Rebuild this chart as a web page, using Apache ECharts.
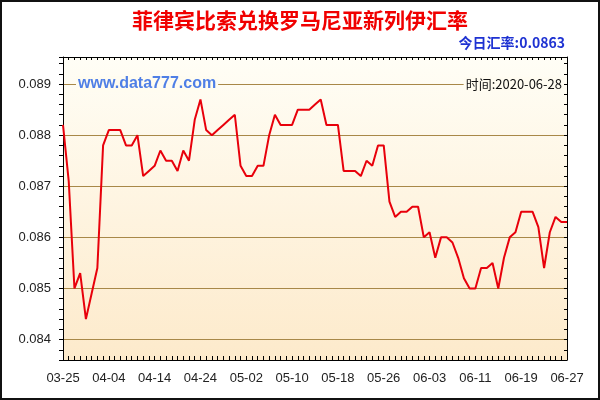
<!DOCTYPE html>
<html><head><meta charset="utf-8">
<script src="https://cdn.jsdelivr.net/npm/echarts@6/dist/echarts.min.js"></script>
<style>html,body{margin:0;padding:0;background:#fff}#c{width:600px;height:400px}</style>
</head><body><div id="c"></div>
<script>
const dates = [
 '03-25','03-26','03-27','03-30','03-31','04-01','04-02','04-03','04-04',
 '04-05','04-06','04-07','04-08','04-09','04-10','04-13','04-14',
 '04-15','04-16','04-17','04-20','04-21','04-22','04-23','04-24',
 '04-25','04-26','04-27','04-28','04-29','04-30','05-01','05-02',
 '05-03','05-04','05-05','05-06','05-07','05-08','05-09','05-10',
 '05-11','05-12','05-13','05-14','05-15','05-16','05-17','05-18',
 '05-19','05-20','05-21','05-22','05-23','05-24','05-25','05-26',
 '05-27','05-28','05-29','05-30','05-31','06-01','06-02','06-03',
 '06-04','06-05','06-06','06-07','06-08','06-09','06-10','06-11',
 '06-12','06-13','06-14','06-15','06-16','06-17','06-18','06-19',
 '06-20','06-21','06-22','06-23','06-24','06-25','06-26','06-27'
];
const rates = [
 0.0882,0.0871,0.0850,0.0853,0.0844,0.0849,0.0854,0.0878,0.0881,
 0.0881,0.0881,0.0878,0.0878,0.0880,0.0872,0.0873,0.0874,
 0.0877,0.0875,0.0875,0.0873,0.0877,0.0875,0.0883,0.0887,
 0.0881,0.0880,0.0881,0.0882,0.0883,0.0884,0.0874,0.0872,
 0.0872,0.0874,0.0874,0.0880,0.0884,0.0882,0.0882,0.0882,
 0.0885,0.0885,0.0885,0.0886,0.0887,0.0882,0.0882,0.0882,
 0.0873,0.0873,0.0873,0.0872,0.0875,0.0874,0.0878,0.0878,
 0.0867,0.0864,0.0865,0.0865,0.0866,0.0866,0.0860,0.0861,
 0.0856,0.0860,0.0860,0.0859,0.0856,0.0852,0.0850,0.0850,
 0.0854,0.0854,0.0855,0.0850,0.0856,0.0860,0.0861,0.0865,
 0.0865,0.0865,0.0862,0.0854,0.0861,0.0864,0.0863,0.0863
];
const titleText = '菲律宾比索兑换罗马尼亚新列伊汇率';
const todayText = '今日汇率:0.0863';
const siteText = 'www.data777.com';
const timeText = '时间:2020-06-28';

const T = 'rgba(0,0,0,0)', G = '#A88848';
function isMajor(v){ return Math.abs(v*1000 - Math.round(v*1000)) < 1e-6; }
const chart = echarts.init(document.getElementById('c'));
chart.setOption({
  animation: false,
  backgroundColor: '#fff',
  grid: {left: 63, right: 33, top: 57, bottom: 40, show: true, borderWidth: 0,
    backgroundColor: {type:'linear', x:0, y:0, x2:0, y2:1,
      colorStops:[{offset:0,color:'#FFFEF6'},{offset:1,color:'#FDEACB'}]}},
  xAxis: [
    {type:'category', data: dates, boundaryGap:false, position:'bottom',
     axisLine:{show:true, lineStyle:{color:'#000', width:1}},
     axisTick:{show:true, interval:0, inside:true, length:4, lineStyle:{color:'#000'}},
     axisLabel:{interval:7, fontSize:13, color:'#222', margin:12, fontFamily:'Arial, Liberation Sans'},
     splitLine:{show:false}},
    {type:'category', data: dates, boundaryGap:false, position:'top',
     axisLine:{show:true, lineStyle:{color:'#000', width:1}},
     axisTick:{show:true, interval:0, inside:true, length:3, lineStyle:{color:'#000'}},
     axisLabel:{show:false}, splitLine:{show:false}}
  ],
  yAxis: [
    {type:'value', min:0.0836, max:0.08953, interval:0.0002, position:'left',
     axisLine:{show:true, lineStyle:{color:'#000', width:1}},
     axisTick:{show:true, length:4, lineStyle:{color:'#000'}},
     axisLabel:{formatter: v => isMajor(v) ? v.toFixed(3) : '', fontSize:13, color:'#222', margin:12,
       fontFamily:'Arial, Liberation Sans'},
     splitLine:{show:true, lineStyle:{color:[T,T,G,T,T], width:1}}},
    {type:'value', min:0.0836, max:0.08953, interval:0.0002, position:'right',
     axisLine:{show:true, lineStyle:{color:'#000', width:1}},
     axisTick:{show:true, inside:true, length:3, lineStyle:{color:'#000'}},
     axisLabel:{show:false}, splitLine:{show:false}}
  ],
  series: [{
    type:'line', data: rates, xAxisIndex:0, yAxisIndex:0,
    showSymbol:false, symbol:'none',
    lineStyle:{color:'#E8000B', width:2}
  }],
  graphic: [
    {type:'rect', shape:{x:1, y:1, width:598, height:398}, style:{fill:'none', stroke:'#111', lineWidth:2}, z:100},
    {type:'text', x:300, y:20, style:{text:titleText, fill:'#F00000', font:'bold 21px "Noto Sans CJK SC", sans-serif', textAlign:'center', textVerticalAlign:'middle'}},
    {type:'text', x:565, y:43, style:{text:todayText, fill:'#1E32D2', font:'bold 14px "Noto Sans CJK SC", sans-serif', textAlign:'right', textVerticalAlign:'middle'}},
    {type:'text', x:76, y:84, z:50, style:{text:siteText, fill:'#4F7FE6', font:'bold 16px Arial, "Liberation Sans", sans-serif', textAlign:'left', textVerticalAlign:'middle', backgroundColor:'#FFFCF0', padding:[0,2]}},
    {type:'text', x:564, y:84, z:50, style:{text:timeText, fill:'#111', font:'13px "Noto Sans CJK SC", sans-serif', textAlign:'right', textVerticalAlign:'middle', backgroundColor:'#FFFCF0', padding:[0,2]}}
  ]
});
</script></body></html>
